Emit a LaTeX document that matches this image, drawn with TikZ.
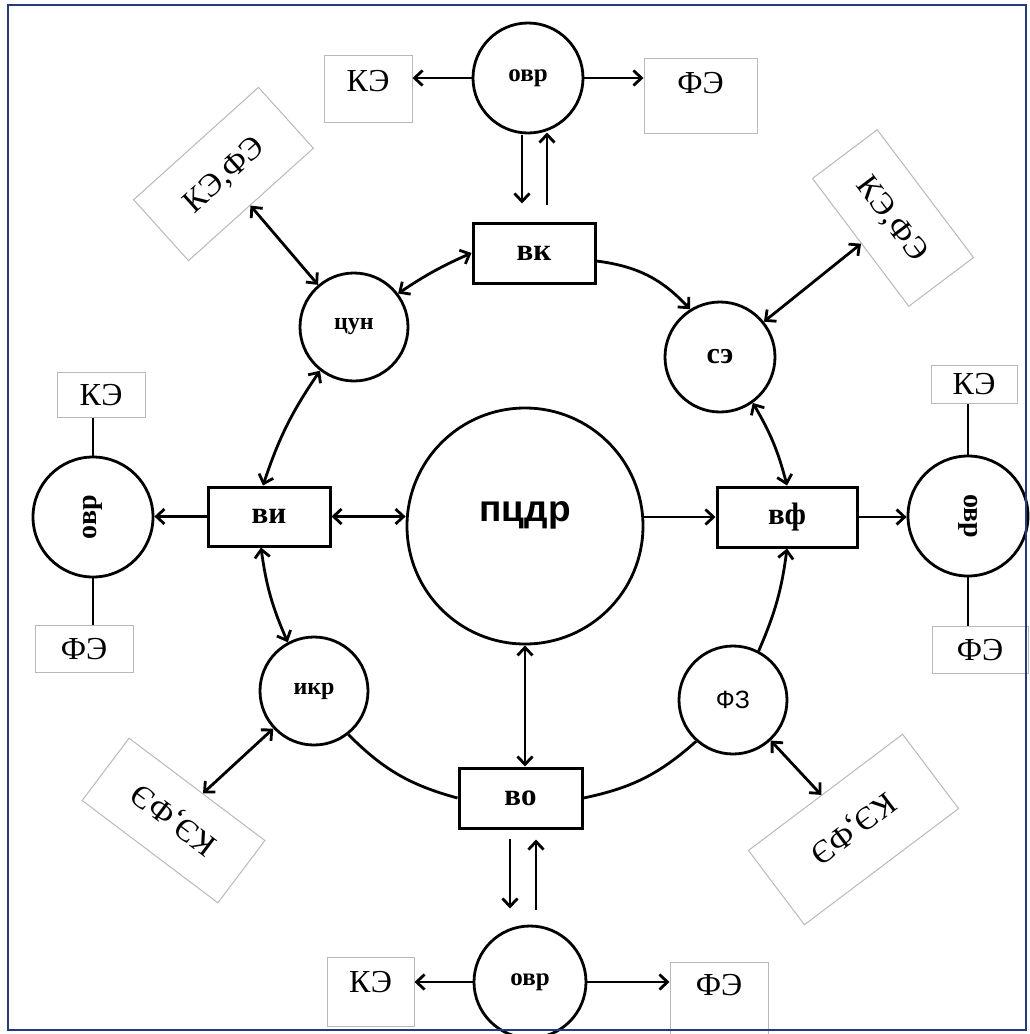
\documentclass[tikz,border=0pt]{standalone}
\usepackage{fontspec}
\usepackage{graphicx}
\setmainfont{Liberation Serif}
\newfontfamily\sansf{Liberation Sans}
\usetikzlibrary{arrows.meta,calc}
\definecolor{frameblue}{RGB}{35,60,120}
\begin{document}
\begin{tikzpicture}[x=1pt,y=-1pt,
  conn/.style={line width=2.8pt},
  arr/.style={conn,-{Straight Barb[length=8pt,width=15pt]}},
  darr/.style={conn,{Straight Barb[length=8pt,width=15pt]}-{Straight Barb[length=8pt,width=15pt]}},
  circ/.style={circle,draw,line width=2.8pt,fill=white,inner sep=0pt,minimum size=#1},
  bx/.style={rectangle,draw,line width=3pt,fill=white,inner sep=0pt,font=\fontsize{31}{34}\selectfont\bfseries},
  lbl/.style={rectangle,draw=gray!55,line width=1pt,fill=white,inner sep=0pt,text height=21pt,text depth=0pt,font=\fontsize{32}{34}\selectfont},
  small/.style={font=\fontsize{24}{26}\selectfont\bfseries},
]
\useasboundingbox (0,0) rectangle (1030,1034);

% nodes
\node[circ=110pt,font=\fontsize{25}{27}\selectfont\bfseries] (ovrT) at (528,78) {овр};
\node[lbl,minimum width=88pt,minimum height=67pt,text depth=16pt] (keT) at (368,88.5) {КЭ};
\node[lbl,minimum width=113pt,minimum height=75pt,text depth=26pt] (feT) at (700.5,95.5) {ФЭ};
\node[bx,minimum width=122pt,minimum height=60pt] (vk) at (534,253) {вк};
\node[lbl,minimum width=168pt,minimum height=82pt,rotate=42] (kfTL) at (223.5,174) {КЭ,ФЭ};
\node[circ=108pt,small] (tsun) at (354,327) {цун};
\node[circ=110pt,font=\fontsize{30}{32}\selectfont\bfseries] (se) at (720,357) {сэ};
\node[lbl,minimum width=160pt,minimum height=81pt,rotate=-53] (kfTR) at (893,218) {КЭ,ФЭ};
\node[bx,minimum width=122pt,minimum height=59pt] (vi) at (269,516.5) {ви};
\node[circ=120pt,font=\fontsize{28}{30}\selectfont\bfseries] (ovrL) at (93,517) {\rotatebox{90}{овр}};
\node[lbl,minimum width=88pt,minimum height=45pt] (keL) at (101,394.5) {КЭ};
\node[lbl,minimum width=98pt,minimum height=47pt] (feL) at (84,648.5) {ФЭ};
\node[circ=236pt,font=\sansf\fontsize{37}{40}\selectfont\bfseries,text height=22pt,text depth=31pt] (pcdr) at (525,526) {пцдр};
\node[bx,minimum width=140pt,minimum height=60pt] (vf) at (787,517) {вф};
\node[circ=120pt,font=\fontsize{28}{30}\selectfont\bfseries] (ovrR) at (968,516) {\rotatebox{-90}{овр}};
\node[lbl,minimum width=86pt,minimum height=38pt] (keR) at (974,384) {КЭ};
\node[lbl,minimum width=96pt,minimum height=47pt] (feR) at (980,649.5) {ФЭ};
\node[circ=108pt,font=\sansf\fontsize{25}{27}\selectfont] (fz) at (733,700) {ФЗ};
\node[lbl,minimum width=193pt,minimum height=93pt,rotate=217] (kfBR) at (853.5,829.5) {КЭ,ФЭ};
\node[bx,minimum width=123pt,minimum height=60pt] (vo) at (520.5,798) {во};
\node[circ=112pt,font=\fontsize{25}{27}\selectfont\bfseries] (ovrB) at (530,982) {овр};
\node[lbl,minimum width=87pt,minimum height=69pt,text depth=20pt] (keB) at (370.5,991.5) {КЭ};
\node[lbl,minimum width=98pt,minimum height=72pt,text depth=26pt] (feB) at (719,998) {ФЭ};
\node[circ=108pt,small] (ikr) at (314,691) {икр};
\node[lbl,minimum width=170pt,minimum height=78pt,rotate=143] (kfBL) at (173.5,820.5) {КЭ,ФЭ};

% connectors
\draw[arr] (ovrT.west) -- (ovrT.west -| keT.east);
\draw[arr] (ovrT.east) -- (ovrT.east -| feT.west);
\draw[arr] ($(vk.north)+(-12,-87)$) -- ($(vk.north)+(-12,-18)$);
\draw[arr] ($(vk.north)+(13,-17)$) -- ($(vk.north)+(13,-89)$);
\draw[darr] (kfTL) -- (tsun);
\draw[darr] (tsun) to[bend left=5] (vk.west);
\draw[arr] ([yshift=-8pt]vk.east) to[bend left=20] (se);
\draw[darr] (kfTR) -- (se);
\draw[darr] (se) to[bend left=8] (vf.north);
\draw[arr] (fz) to[bend right=8] (vf.south);
\draw[conn] (fz) to[bend left=15] (vo.east);
\draw[conn] (vo.west) to[bend left=15] (ikr);
\draw[darr] (ikr) to[bend left=8] ([xshift=-8pt]vi.south);
\draw[darr] ([xshift=-6pt]vi.north) to[bend left=8] (tsun);
\draw[arr] (vi.west) -- (vi.west -| ovrL.east);
\draw[darr] (vi.east) -- (vi.east -| pcdr.west);
\draw[arr] (vf.west -| pcdr.east) -- (vf.west);
\draw[darr] (pcdr.south) -- (pcdr.south |- vo.north);
\draw[arr] (vf.east) -- (vf.east -| ovrR.west);
\draw[darr] (fz) -- (kfBR);
\draw[darr] (ikr) -- (kfBL);
\draw[conn] (ovrL.north) -- (ovrL.north |- keL.south);
\draw[conn] (ovrL.south) -- (ovrL.south |- feL.north);
\draw[conn] (ovrR.north) -- (ovrR.north |- keR.south);
\draw[conn] (ovrR.south) -- (ovrR.south |- feR.north);
\draw[arr] ($(vo.south)+(-10.5,9)$) -- ($(vo.south)+(-10.5,79)$);
\draw[arr] ($(vo.south)+(15.5,80)$) -- ($(vo.south)+(15.5,10)$);
\draw[arr] (ovrB.west) -- (ovrB.west -| keB.east);
\draw[arr] (ovrB.east) -- (ovrB.east -| feB.west);

% frame
\draw[line width=2pt,frameblue] (8,5) rectangle (1026,1030);
\end{tikzpicture}
\end{document}
